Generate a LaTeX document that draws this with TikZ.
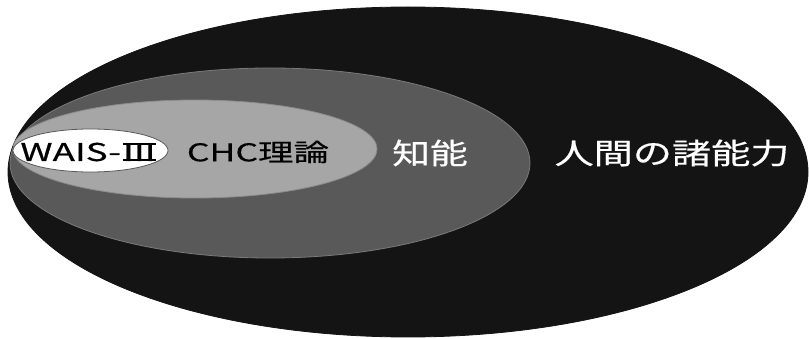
\documentclass[tikz,border=0pt]{standalone}
\usepackage{fontspec}
\usepackage{graphicx}
\newfontfamily\jp[FakeBold=0.4]{Noto Sans CJK JP}
\definecolor{outerc}{HTML}{141414}
\definecolor{intelc}{HTML}{595959}
\definecolor{chcc}{HTML}{A6A6A6}
\definecolor{edgec}{HTML}{8C8C8C}
\newsavebox\romanbox
\newcommand\barredthree{\sbox\romanbox{Ⅲ}%
  \rlap{\hspace{0.05\wd\romanbox}\rule[0pt]{0.9\wd\romanbox}{1.6pt}}%
  \rlap{\hspace{0.05\wd\romanbox}\rule[16.4pt]{0.9\wd\romanbox}{1.6pt}}%
  \usebox\romanbox}
\tikzset{
  blob/.style={draw=edgec, line width=0.8pt},
  lbl/.style={inner sep=0pt, font=\jp},
}
\begin{document}
\begin{tikzpicture}[x=1pt,y=-1pt]
\useasboundingbox (0,0) rectangle (809,339);
\fill[white] (0,0) rectangle (809,339);
\draw[blob, fill=outerc, draw=outerc] (408,172) ellipse [x radius=400, y radius=165];
\draw[blob, fill=intelc, draw=intelc!80!white] (270,163) ellipse [x radius=260, y radius=95];
\draw[blob, fill=chcc] (195,149) ellipse [x radius=182, y radius=49];
\draw[blob, fill=white, draw=intelc] (90.5,150.5) ellipse [x radius=77.5, y radius=21.5];
\node[lbl, text=black] (wais) at (89,152) {\scalebox{1.5}[1]{\fontsize{24.5}{28}\selectfont WAIS-\barredthree}};
\node[lbl, text=black] (chc) at (258,152) {\scalebox{1.45}[1]{\fontsize{24.5}{28}\selectfont CHC理論}};
\node[lbl, text=white] (intel) at (430,153) {\scalebox{1.3}[1]{\fontsize{29}{32}\selectfont 知能}};
\node[lbl, text=white] (human) at (672,153) {\scalebox{1.35}[1]{\fontsize{29}{32}\selectfont 人間の諸能力}};
\end{tikzpicture}
\end{document}
